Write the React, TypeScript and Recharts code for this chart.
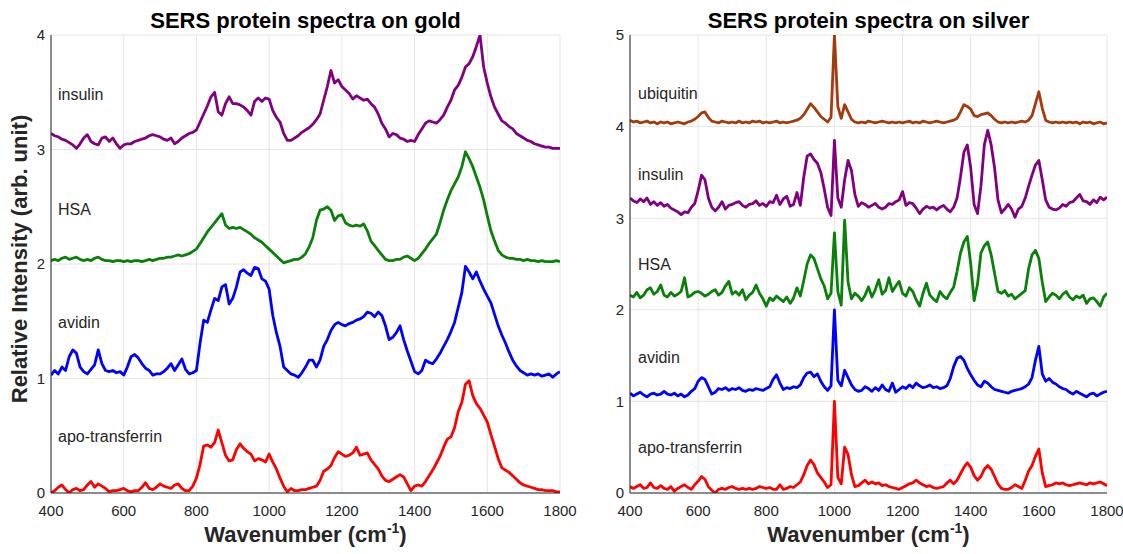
import React from 'react';
import { LineChart, Line, XAxis, YAxis, CartesianGrid } from 'recharts';

// ---------- categories / ticks ----------
const WAVENUMBERS = [
  400, 410, 420, 430, 440, 450, 460, 470, 480, 490,
  500, 510, 520, 530, 540, 550, 560, 570, 580, 590,
  600, 610, 620, 630, 640, 650, 660, 670, 680, 690,
  700, 710, 720, 730, 740, 750, 760, 770, 780, 790,
  800, 810, 820, 830, 840, 850, 860, 870, 880, 890,
  900, 910, 920, 930, 940, 950, 960, 970, 980, 990,
  1000, 1010, 1020, 1030, 1040, 1050, 1060, 1070, 1080, 1090,
  1100, 1110, 1120, 1130, 1140, 1150, 1160, 1170, 1180, 1190,
  1200, 1210, 1220, 1230, 1240, 1250, 1260, 1270, 1280, 1290,
  1300, 1310, 1320, 1330, 1340, 1350, 1360, 1370, 1380, 1390,
  1400, 1410, 1420, 1430, 1440, 1450, 1460, 1470, 1480, 1490,
  1500, 1510, 1520, 1530, 1540, 1550, 1560, 1570, 1580, 1590,
  1600, 1610, 1620, 1630, 1640, 1650, 1660, 1670, 1680, 1690,
  1700, 1710, 1720, 1730, 1740, 1750, 1760, 1770, 1780, 1790,
  1800,
];
const X_TICKS = [400, 600, 800, 1000, 1200, 1400, 1600, 1800];
const X_MINOR_TICKS = [
  400, 450, 500, 550, 600, 650, 700, 750, 800, 850, 900, 950, 1000, 1050, 1100,
  1150, 1200, 1250, 1300, 1350, 1400, 1450, 1500, 1550, 1600, 1650, 1700, 1750, 1800,
];
const GOLD_Y_TICKS = [0, 1, 2, 3, 4];
const SILVER_Y_TICKS = [0, 1, 2, 3, 4, 5];

// ---------- gold spectra ----------
const GOLD_INSULIN = [
  3.14, 3.12, 3.11, 3.09, 3.08, 3.06, 3.04, 3.01, 3.05, 3.10,
  3.13, 3.07, 3.05, 3.04, 3.10, 3.11, 3.07, 3.10, 3.05, 3.01,
  3.04, 3.05, 3.05, 3.07, 3.08, 3.09, 3.10, 3.12, 3.13, 3.12,
  3.11, 3.09, 3.08, 3.10, 3.05, 3.07, 3.10, 3.12, 3.14, 3.15,
  3.17, 3.24, 3.31, 3.38, 3.46, 3.50, 3.33, 3.30, 3.40, 3.46,
  3.40, 3.40, 3.39, 3.37, 3.34, 3.30, 3.42, 3.45, 3.42, 3.45,
  3.44, 3.34, 3.28, 3.24, 3.14, 3.08, 3.08, 3.10, 3.12, 3.15,
  3.17, 3.19, 3.22, 3.26, 3.31, 3.43, 3.55, 3.69, 3.58, 3.61,
  3.55, 3.52, 3.49, 3.44, 3.47, 3.45, 3.43, 3.44, 3.40, 3.37,
  3.31, 3.23, 3.18, 3.11, 3.14, 3.13, 3.10, 3.09, 3.07, 3.08,
  3.07, 3.13, 3.18, 3.23, 3.25, 3.24, 3.23, 3.26, 3.30, 3.37,
  3.43, 3.52, 3.56, 3.63, 3.72, 3.75, 3.81, 3.90, 4.00, 3.72,
  3.58, 3.46, 3.37, 3.31, 3.25, 3.23, 3.20, 3.18, 3.14, 3.12,
  3.10, 3.08, 3.07, 3.05, 3.04, 3.03, 3.02, 3.02, 3.01, 3.01,
  3.01,
];
const GOLD_HSA = [
  2.03, 2.04, 2.03, 2.05, 2.06, 2.04, 2.05, 2.06, 2.04, 2.03,
  2.04, 2.03, 2.05, 2.06, 2.04, 2.03, 2.03, 2.02, 2.03, 2.03,
  2.02, 2.03, 2.02, 2.03, 2.03, 2.02, 2.03, 2.04, 2.03, 2.04,
  2.05, 2.05, 2.06, 2.06, 2.07, 2.08, 2.07, 2.08, 2.09, 2.11,
  2.13, 2.18, 2.23, 2.28, 2.32, 2.36, 2.40, 2.44, 2.34, 2.31,
  2.32, 2.31, 2.32, 2.30, 2.28, 2.26, 2.23, 2.21, 2.19, 2.16,
  2.13, 2.10, 2.07, 2.04, 2.01, 2.02, 2.03, 2.04, 2.04, 2.06,
  2.09, 2.15, 2.23, 2.38, 2.47, 2.48, 2.50, 2.47, 2.38, 2.42,
  2.43, 2.36, 2.34, 2.33, 2.34, 2.33, 2.35, 2.29, 2.20, 2.16,
  2.12, 2.08, 2.04, 2.03, 2.03, 2.04, 2.04, 2.06, 2.07, 2.05,
  2.03, 2.05, 2.09, 2.13, 2.18, 2.22, 2.26, 2.36, 2.47, 2.56,
  2.64, 2.70, 2.76, 2.85, 2.98, 2.92, 2.85, 2.76, 2.67, 2.56,
  2.42, 2.29, 2.20, 2.12, 2.08, 2.06, 2.05, 2.05, 2.04, 2.04,
  2.03, 2.04, 2.03, 2.03, 2.02, 2.03, 2.02, 2.02, 2.02, 2.03,
  2.02,
];
const GOLD_AVIDIN = [
  1.03, 1.07, 1.04, 1.10, 1.07, 1.19, 1.25, 1.22, 1.10, 1.06,
  1.04, 1.08, 1.12, 1.25, 1.13, 1.07, 1.06, 1.07, 1.05, 1.06,
  1.03, 1.10, 1.19, 1.21, 1.18, 1.13, 1.09, 1.07, 1.03, 1.04,
  1.04, 1.06, 1.09, 1.13, 1.07, 1.12, 1.17, 1.08, 1.04, 1.05,
  1.07, 1.31, 1.51, 1.49, 1.60, 1.70, 1.68, 1.80, 1.82, 1.65,
  1.70, 1.80, 1.93, 1.95, 1.92, 1.90, 1.97, 1.96, 1.87, 1.85,
  1.78, 1.55, 1.40, 1.28, 1.10, 1.07, 1.04, 1.03, 1.01, 1.05,
  1.10, 1.16, 1.16, 1.10, 1.16, 1.28, 1.34, 1.42, 1.47, 1.49,
  1.47, 1.46, 1.48, 1.49, 1.51, 1.52, 1.54, 1.58, 1.57, 1.54,
  1.58, 1.55, 1.46, 1.34, 1.36, 1.40, 1.46, 1.34, 1.24, 1.15,
  1.06, 1.04, 1.07, 1.16, 1.14, 1.13, 1.17, 1.22, 1.28, 1.34,
  1.41, 1.49, 1.62, 1.75, 1.98, 1.93, 1.87, 1.93, 1.85, 1.78,
  1.72, 1.66, 1.56, 1.46, 1.38, 1.31, 1.23, 1.16, 1.11, 1.07,
  1.05, 1.03, 1.04, 1.03, 1.04, 1.02, 1.03, 1.04, 1.01, 1.04,
  1.06,
];
const GOLD_APO = [
  0.00, 0.02, 0.05, 0.07, 0.03, 0.00, 0.03, 0.04, 0.02, 0.03,
  0.07, 0.10, 0.05, 0.08, 0.06, 0.04, 0.01, 0.02, 0.02, 0.03,
  0.04, 0.02, 0.01, 0.02, 0.02, 0.05, 0.09, 0.04, 0.03, 0.05,
  0.08, 0.06, 0.05, 0.04, 0.07, 0.08, 0.04, 0.02, 0.02, 0.06,
  0.13, 0.25, 0.41, 0.42, 0.40, 0.44, 0.55, 0.44, 0.33, 0.28,
  0.29, 0.38, 0.43, 0.39, 0.36, 0.34, 0.28, 0.30, 0.29, 0.27,
  0.34, 0.27, 0.21, 0.13, 0.06, 0.01, 0.04, 0.02, 0.02, 0.03,
  0.03, 0.04, 0.05, 0.06, 0.11, 0.19, 0.21, 0.24, 0.31, 0.36,
  0.34, 0.32, 0.33, 0.35, 0.40, 0.33, 0.34, 0.35, 0.29, 0.25,
  0.21, 0.15, 0.11, 0.10, 0.12, 0.14, 0.16, 0.14, 0.08, 0.02,
  0.06, 0.07, 0.06, 0.10, 0.15, 0.20, 0.26, 0.32, 0.40, 0.47,
  0.49, 0.57, 0.71, 0.79, 0.95, 0.98, 0.85, 0.78, 0.74, 0.68,
  0.62, 0.51, 0.41, 0.30, 0.22, 0.20, 0.18, 0.15, 0.12, 0.09,
  0.07, 0.06, 0.05, 0.04, 0.03, 0.03, 0.02, 0.02, 0.02, 0.01,
  0.01,
];

// ---------- silver spectra ----------
const SILVER_UBIQUITIN = [
  4.07, 4.05, 4.06, 4.04, 4.05, 4.06, 4.04, 4.05, 4.03, 4.05,
  4.04, 4.05, 4.03, 4.04, 4.05, 4.04, 4.03, 4.05, 4.06, 4.08,
  4.11, 4.15, 4.16, 4.10, 4.06, 4.05, 4.04, 4.06, 4.05, 4.04,
  4.05, 4.04, 4.06, 4.04, 4.05, 4.04, 4.06, 4.05, 4.06, 4.04,
  4.05, 4.04, 4.05, 4.06, 4.04, 4.05, 4.04, 4.05, 4.06, 4.07,
  4.09, 4.13, 4.19, 4.25, 4.21, 4.16, 4.11, 4.08, 4.05, 4.10,
  5.00, 4.22, 4.09, 4.24, 4.16, 4.08, 4.05, 4.04, 4.05, 4.04,
  4.06, 4.05, 4.04, 4.05, 4.06, 4.05, 4.04, 4.05, 4.04, 4.05,
  4.04, 4.05, 4.06, 4.04, 4.05, 4.04, 4.06, 4.05, 4.04, 4.05,
  4.06, 4.05, 4.04, 4.05, 4.06, 4.07, 4.09, 4.16, 4.24, 4.22,
  4.19, 4.12, 4.11, 4.13, 4.14, 4.15, 4.12, 4.08, 4.05, 4.04,
  4.05, 4.04, 4.05, 4.04, 4.05, 4.06, 4.05, 4.07, 4.12, 4.25,
  4.38, 4.20, 4.07, 4.05, 4.04, 4.05, 4.04, 4.05, 4.04, 4.05,
  4.04, 4.05, 4.03, 4.05, 4.04, 4.05, 4.03, 4.04, 4.05, 4.03,
  4.04,
];
const SILVER_INSULIN = [
  3.22, 3.19, 3.17, 3.21, 3.18, 3.22, 3.15, 3.18, 3.14, 3.17,
  3.13, 3.15, 3.11, 3.09, 3.07, 3.04, 3.07, 3.06, 3.12, 3.16,
  3.30, 3.47, 3.42, 3.22, 3.12, 3.08, 3.12, 3.18, 3.10, 3.14,
  3.15, 3.17, 3.18, 3.14, 3.12, 3.15, 3.16, 3.19, 3.14, 3.16,
  3.13, 3.18, 3.17, 3.25, 3.15, 3.21, 3.24, 3.13, 3.15, 3.28,
  3.14, 3.45, 3.68, 3.70, 3.64, 3.60, 3.50, 3.32, 3.12, 3.03,
  3.85, 3.22, 3.12, 3.42, 3.63, 3.52, 3.26, 3.13, 3.17, 3.15,
  3.12, 3.14, 3.16, 3.12, 3.10, 3.12, 3.16, 3.15, 3.18, 3.20,
  3.29, 3.14, 3.17, 3.16, 3.11, 3.05, 3.10, 3.13, 3.11, 3.12,
  3.09, 3.12, 3.14, 3.10, 3.07, 3.12, 3.22, 3.45, 3.72, 3.80,
  3.55, 3.15, 3.05, 3.35, 3.80, 3.96, 3.80, 3.55, 3.20, 3.06,
  3.10, 3.15, 3.10, 3.01, 3.10, 3.13, 3.22, 3.35, 3.47, 3.58,
  3.63, 3.42, 3.20, 3.12, 3.10, 3.09, 3.11, 3.15, 3.13, 3.17,
  3.18, 3.22, 3.26, 3.19, 3.18, 3.15, 3.20, 3.17, 3.23, 3.20,
  3.23,
];
const SILVER_HSA = [
  2.16, 2.14, 2.19, 2.13, 2.16, 2.22, 2.24, 2.17, 2.20, 2.27,
  2.16, 2.14, 2.19, 2.15, 2.17, 2.20, 2.35, 2.14, 2.16, 2.19,
  2.20, 2.18, 2.15, 2.17, 2.20, 2.22, 2.16, 2.19, 2.26, 2.31,
  2.17, 2.20, 2.16, 2.22, 2.11, 2.16, 2.19, 2.27, 2.18, 2.12,
  2.04, 2.13, 2.10, 2.15, 2.12, 2.09, 2.14, 2.07, 2.13, 2.24,
  2.15, 2.32, 2.50, 2.60, 2.56, 2.45, 2.34, 2.26, 2.12, 2.18,
  2.84, 2.20, 2.05, 2.98, 2.30, 2.12, 2.18, 2.15, 2.10, 2.16,
  2.25, 2.14, 2.22, 2.33, 2.17, 2.21, 2.35, 2.20, 2.26, 2.31,
  2.18, 2.15, 2.24, 2.20, 2.11, 2.04, 2.18, 2.29, 2.16, 2.12,
  2.09, 2.20, 2.15, 2.12, 2.19, 2.25, 2.42, 2.62, 2.74, 2.80,
  2.50, 2.10, 2.28, 2.62, 2.70, 2.74, 2.60, 2.40, 2.20, 2.18,
  2.21, 2.15, 2.17, 2.12, 2.15, 2.18, 2.21, 2.45, 2.60, 2.65,
  2.56, 2.30, 2.09, 2.14, 2.18, 2.16, 2.12, 2.17, 2.20, 2.14,
  2.11, 2.15, 2.13, 2.16, 2.07, 2.12, 2.13, 2.09, 2.04, 2.14,
  2.18,
];
const SILVER_AVIDIN = [
  1.09, 1.06, 1.08, 1.10, 1.07, 1.05, 1.08, 1.09, 1.07, 1.08,
  1.11, 1.08, 1.07, 1.09, 1.06, 1.08, 1.05, 1.07, 1.11, 1.14,
  1.22, 1.26, 1.24, 1.16, 1.08, 1.10, 1.14, 1.13, 1.15, 1.12,
  1.14, 1.13, 1.15, 1.12, 1.11, 1.13, 1.12, 1.14, 1.13, 1.12,
  1.14, 1.16, 1.24, 1.29, 1.20, 1.13, 1.15, 1.14, 1.16, 1.15,
  1.18, 1.26, 1.31, 1.32, 1.27, 1.30, 1.22, 1.16, 1.12, 1.17,
  2.00, 1.23, 1.17, 1.34, 1.26, 1.18, 1.13, 1.11, 1.12, 1.16,
  1.14, 1.11, 1.15, 1.12, 1.18, 1.13, 1.11, 1.20, 1.10, 1.13,
  1.16, 1.14, 1.18, 1.15, 1.20, 1.17, 1.15, 1.16, 1.18, 1.15,
  1.16, 1.14, 1.15, 1.17, 1.25, 1.38, 1.47, 1.49, 1.45, 1.36,
  1.29, 1.23, 1.18, 1.16, 1.22, 1.20, 1.16, 1.13, 1.12, 1.11,
  1.10, 1.09, 1.11, 1.12, 1.13, 1.14, 1.16, 1.19, 1.26, 1.45,
  1.60, 1.30, 1.22, 1.25, 1.21, 1.19, 1.16, 1.14, 1.13, 1.10,
  1.08, 1.11, 1.09, 1.07, 1.05, 1.08, 1.09, 1.06, 1.08, 1.10,
  1.11,
];
const SILVER_APO = [
  0.07, 0.05, 0.07, 0.09, 0.05, 0.06, 0.11, 0.06, 0.05, 0.08,
  0.05, 0.04, 0.07, 0.02, 0.05, 0.07, 0.09, 0.06, 0.04, 0.09,
  0.13, 0.18, 0.15, 0.07, 0.03, 0.00, 0.04, 0.05, 0.04, 0.06,
  0.07, 0.05, 0.04, 0.05, 0.04, 0.05, 0.04, 0.05, 0.07, 0.06,
  0.05, 0.06, 0.04, 0.04, 0.09, 0.04, 0.05, 0.07, 0.06, 0.09,
  0.12, 0.20, 0.30, 0.36, 0.31, 0.22, 0.17, 0.12, 0.06, 0.09,
  1.00, 0.17, 0.10, 0.50, 0.42, 0.20, 0.07, 0.08, 0.11, 0.14,
  0.10, 0.12, 0.10, 0.11, 0.08, 0.09, 0.07, 0.06, 0.05, 0.04,
  0.06, 0.08, 0.10, 0.11, 0.14, 0.11, 0.09, 0.07, 0.08, 0.06,
  0.05, 0.06, 0.07, 0.11, 0.14, 0.10, 0.14, 0.21, 0.28, 0.33,
  0.28, 0.19, 0.14, 0.18, 0.26, 0.30, 0.26, 0.18, 0.10, 0.05,
  0.04, 0.04, 0.06, 0.09, 0.07, 0.05, 0.14, 0.24, 0.30, 0.40,
  0.48, 0.22, 0.07, 0.08, 0.09, 0.11, 0.10, 0.11, 0.09, 0.08,
  0.09, 0.10, 0.11, 0.10, 0.09, 0.11, 0.10, 0.11, 0.12, 0.10,
  0.08,
];

// ---------- styling ----------
const AXIS = '#262626';
const GRID = '#e4e4e4';
const FONT = '"Liberation Sans", Arial, Helvetica, sans-serif';
const C_RED = '#ff0000';
const C_BLUE = '#0000ff';
const C_GREEN = '#0a800a';
const C_PURPLE = '#800080';
const C_BROWN = '#a33b0c';

const goldData = WAVENUMBERS.map((x, i) => ({
  x,
  apo: GOLD_APO[i],
  avidin: GOLD_AVIDIN[i],
  hsa: GOLD_HSA[i],
  insulin: GOLD_INSULIN[i],
}));
const silverData = WAVENUMBERS.map((x, i) => ({
  x,
  apo: SILVER_APO[i],
  avidin: SILVER_AVIDIN[i],
  hsa: SILVER_HSA[i],
  insulin: SILVER_INSULIN[i],
  ubiquitin: SILVER_UBIQUITIN[i],
}));

const goldSeries = [
  { key: 'apo', color: C_RED },
  { key: 'avidin', color: C_BLUE },
  { key: 'hsa', color: C_GREEN },
  { key: 'insulin', color: C_PURPLE },
];
const silverSeries = [
  { key: 'apo', color: C_RED },
  { key: 'avidin', color: C_BLUE },
  { key: 'hsa', color: C_GREEN },
  { key: 'insulin', color: C_PURPLE },
  { key: 'ubiquitin', color: C_BROWN },
];

type PanelProps = {
  width: number;
  height: number;
  margin: { top: number; right: number; bottom: number; left: number };
  yMax: number;
  yTicks: number[];
  data: any[];
  series: { key: string; color: string }[];
};

function Panel({ width, height, margin, yMax, yTicks, data, series }: PanelProps) {
  const tickFont = { fontSize: 15, fill: AXIS, fontFamily: FONT };
  return (
    <LineChart width={width} height={height} data={data} margin={margin}>
      <CartesianGrid stroke={GRID} strokeWidth={1} />
      <XAxis
        xAxisId={0}
        dataKey="x"
        type="number"
        domain={[400, 1800]}
        allowDataOverflow
        ticks={X_TICKS}
        interval={0}
        height={30}
        tickLine={false}
        tickSize={6}
        tickMargin={6}
        axisLine={{ stroke: AXIS, strokeWidth: 1 }}
        tick={tickFont}
      />
      <XAxis
        xAxisId="bottomMinor"
        type="number"
        orientation="bottom"
        mirror
        domain={[400, 1800]}
        allowDataOverflow
        ticks={X_MINOR_TICKS}
        interval={0}
        height={0}
        tick={false}
        tickSize={4}
        axisLine={false}
        tickLine={{ stroke: AXIS }}
      />
      <XAxis
        xAxisId="topMinor"
        type="number"
        orientation="top"
        mirror
        domain={[400, 1800]}
        allowDataOverflow
        ticks={X_MINOR_TICKS}
        interval={0}
        height={0}
        tick={false}
        tickSize={4}
        axisLine={{ stroke: AXIS, strokeWidth: 1 }}
        tickLine={{ stroke: AXIS }}
      />
      <YAxis
        yAxisId={0}
        type="number"
        domain={[0, yMax]}
        allowDataOverflow
        ticks={yTicks}
        interval={0}
        width={40}
        tickLine={false}
        tickSize={0}
        tickMargin={6}
        axisLine={{ stroke: AXIS, strokeWidth: 1 }}
        tick={tickFont}
      />
      <YAxis
        yAxisId="leftMinor"
        type="number"
        orientation="left"
        mirror
        domain={[0, yMax]}
        allowDataOverflow
        ticks={yTicks}
        interval={0}
        width={0}
        tick={false}
        tickSize={4}
        axisLine={false}
        tickLine={{ stroke: AXIS }}
      />
      <YAxis
        yAxisId="rightMinor"
        type="number"
        orientation="right"
        mirror
        domain={[0, yMax]}
        allowDataOverflow
        ticks={yTicks}
        interval={0}
        width={0}
        tick={false}
        tickSize={4}
        axisLine={{ stroke: AXIS, strokeWidth: 1 }}
        tickLine={{ stroke: AXIS }}
      />
      {series.map((s) => (
        <Line
          key={s.key}
          xAxisId={0}
          yAxisId={0}
          type="linear"
          dataKey={s.key}
          stroke={s.color}
          strokeWidth={2.8}
          strokeLinejoin="round"
          dot={false}
          activeDot={false}
          isAnimationActive={false}
        />
      ))}
    </LineChart>
  );
}

const LABEL_STYLE = { fontSize: 16, fill: AXIS, fontFamily: FONT };
const TITLE_STYLE = { fontSize: 22, fontWeight: 700, fill: '#000', fontFamily: FONT };
const AXIS_TITLE_STYLE = { fontSize: 22, fontWeight: 700, fill: AXIS, fontFamily: FONT };

export default function App() {
  return (
    <div
      style={{
        position: 'fixed',
        left: 0,
        top: 0,
        width: 1123,
        height: 554,
        background: '#fff',
        fontFamily: FONT,
        overflow: 'hidden',
      }}
    >
      <div style={{ position: 'absolute', left: 0, top: 0 }}>
        <Panel
          width={600}
          height={554}
          margin={{ top: 35, right: 40, bottom: 31, left: 11 }}
          yMax={4}
          yTicks={GOLD_Y_TICKS}
          data={goldData}
          series={goldSeries}
        />
      </div>
      <div style={{ position: 'absolute', left: 575, top: 0 }}>
        <Panel
          width={548}
          height={554}
          margin={{ top: 35, right: 16, bottom: 31, left: 15 }}
          yMax={5}
          yTicks={SILVER_Y_TICKS}
          data={silverData}
          series={silverSeries}
        />
      </div>
      <svg
        width={1123}
        height={554}
        style={{ position: 'absolute', left: 0, top: 0, pointerEvents: 'none' }}
      >
        <text x={305.5} y={28} textAnchor="middle" style={TITLE_STYLE}>
          SERS protein spectra on gold
        </text>
        <text x={868.5} y={28} textAnchor="middle" style={TITLE_STYLE}>
          SERS protein spectra on silver
        </text>
        <text x={305.5} y={542} textAnchor="middle" style={AXIS_TITLE_STYLE}>
          Wavenumber (cm
          <tspan fontSize={14} dy={-9}>-1</tspan>
          <tspan dy={9}>)</tspan>
        </text>
        <text x={868.5} y={542} textAnchor="middle" style={AXIS_TITLE_STYLE}>
          Wavenumber (cm
          <tspan fontSize={14} dy={-9}>-1</tspan>
          <tspan dy={9}>)</tspan>
        </text>
        <text
          x={27}
          y={259}
          textAnchor="middle"
          transform="rotate(-90 27 259)"
          style={AXIS_TITLE_STYLE}
        >
          Relative Intensity (arb. unit)
        </text>

        <text x={58} y={100} style={LABEL_STYLE}>insulin</text>
        <text x={58} y={215} style={LABEL_STYLE}>HSA</text>
        <text x={58} y={328} style={LABEL_STYLE}>avidin</text>
        <text x={58} y={442} style={LABEL_STYLE}>apo-transferrin</text>

        <text x={638} y={99} style={LABEL_STYLE}>ubiquitin</text>
        <text x={638} y={180} style={LABEL_STYLE}>insulin</text>
        <text x={638} y={270} style={LABEL_STYLE}>HSA</text>
        <text x={638} y={363} style={LABEL_STYLE}>avidin</text>
        <text x={638} y={453} style={LABEL_STYLE}>apo-transferrin</text>
      </svg>
    </div>
  );
}
